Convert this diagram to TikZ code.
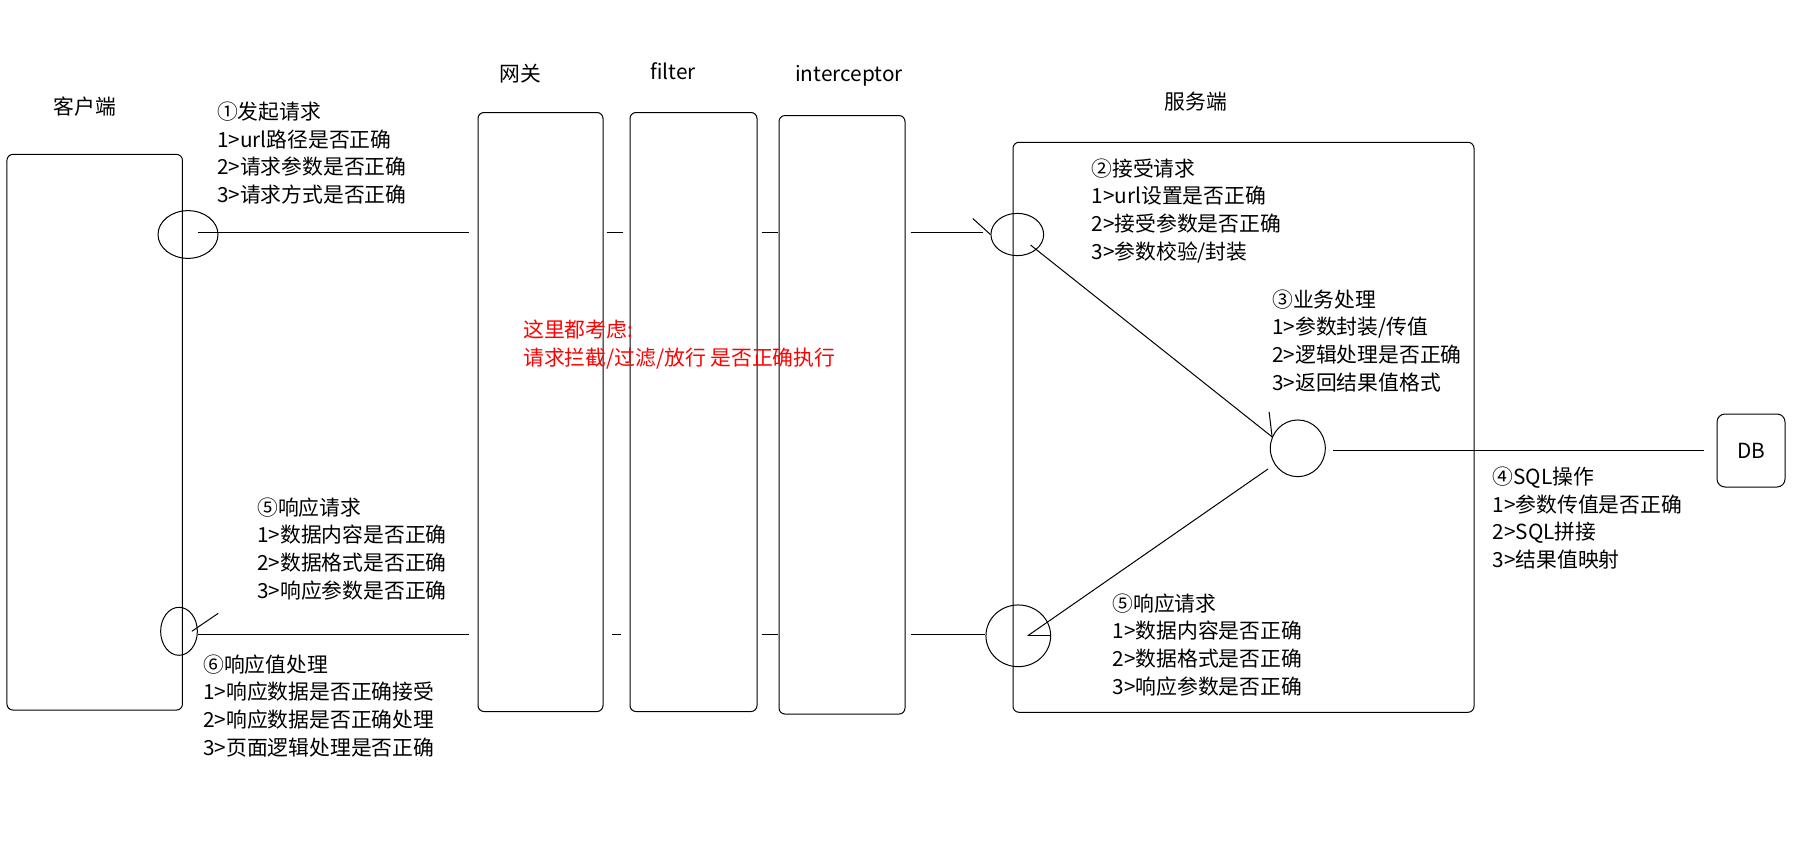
\documentclass[tikz,border=0pt]{standalone}
\usepackage{fontspec}
\setmainfont{Noto Sans CJK SC}
\usetikzlibrary{shapes.geometric}
\tikzset{
	box/.style={draw, rounded corners=6pt},
	hub/.style={draw, ellipse, inner sep=0pt},
	title/.style={inner sep=0pt, font=\fontsize{20.8}{24}\selectfont},
	steptext/.style={anchor=north west, inner sep=0pt, align=left, font=\fontsize{20.8}{27.7}\selectfont}
}
\newcommand{\checklist}[4]{\node[steptext] (#1) at (#2,#3) {#4}}

\begin{document}
\begin{tikzpicture}[x=1pt, y=-1pt, line width=1pt]
	\useasboundingbox (0,0) rectangle (1802,852);
	\node[box, minimum width=175.5pt, minimum height=555.7pt] (client) at (94.7,432.2) {};
	\node[box, minimum width=125pt, minimum height=599pt] (gw) at (540.5,412) {};
	\node[box, minimum width=127pt, minimum height=599pt] (filter) at (693.5,412) {};
	\node[box, minimum width=126pt, minimum height=598.5pt] (ic) at (842,414.8) {};
	\node[box, minimum width=461pt, minimum height=570pt] (server) at (1243.5,427.3) {};
	\node[box, title, rounded corners=8pt, minimum width=68pt, minimum height=73pt] (db) at (1751,450.5) {DB};
	\node[title] (clientlabel) at (85,106.5) {客户端};
	\node[title] (gwlabel) at (520,73.4) {网关};
	\node[title] (filterlabel) at (673,71) {filter};
	\node[title] (iclabel) at (849,76) {interceptor};
	\node[title] (serverlabel) at (1196,101.6) {服务端};
	\node[hub, minimum width=60pt, minimum height=47.7pt] (cq) at (188,234.5) {};
	\node[hub, minimum width=36.7pt, minimum height=48pt] (cr) at (179,631.3) {};
	\node[hub, minimum width=52.7pt, minimum height=42.3pt] (sq) at (1017.3,234.5) {};
	\node[hub, minimum width=55pt, minimum height=56.7pt] (sb) at (1297.8,448.3) {};
	\node[hub, minimum width=64.7pt, minimum height=61.7pt] (sr) at (1018.3,635.8) {};
	\coordinate (in) at (0,232.3);
	\coordinate (out) at (0,634.3);
	\draw[shorten <=10pt, shorten >=9pt] (cq.center |- in) -- (gw.west |- in);
	\draw[shorten <=3pt, shorten >=7pt, yshift=2pt] (gw.east |- in) -- (filter.west |- in);
	\draw[shorten <=4pt, shorten >=1pt, yshift=7pt] (filter.east |- in) -- (ic.west |- in);
	\draw[shorten <=5pt, shorten >=7pt] (ic.east |- in) -- (sq.west |- in);
	\draw (sq.west) -- ++(-17.7,-16);
	\draw[shorten <=17pt] (sq.center) -- (sb.156);
	\draw (sb.156) -- ++(-3,-25);
	\draw[shorten <=7pt, shorten >=13pt] (sb.east |- db.west) -- (db.west);
	\draw[shorten <=8pt] (sb) -- ([xshift=9.4pt]sr.center);
	\draw ([xshift=9.4pt]sr.center) -- ++(22.3,0);
	\draw[shorten <=5pt] (ic.east |- out) -- (sr.west |- out);
	\draw[shorten <=4pt, shorten >=1pt, yshift=2.3pt] (filter.east |- out) -- (ic.west |- out);
	\draw[shorten <=8pt, shorten >=9pt, yshift=5pt] (gw.east |- out) -- (filter.west |- out);
	\draw[shorten <=9pt] (gw.west |- out) -- (cr.east |- out);
	\draw ([xshift=-6pt]cr.east) -- ++(26.4,-18);
	\checklist{send}{216.5}{101.3}{①发起请求\\1>url路径是否正确\\2>请求参数是否正确\\3>请求方式是否正确};
	\checklist{accept}{1091}{157.9}{②接受请求\\1>url设置是否正确\\2>接受参数是否正确\\3>参数校验/封装};
	\checklist{logic}{1271.7}{288.9}{③业务处理\\1>参数封装/传值\\2>逻辑处理是否正确\\3>返回结果值格式};
	\checklist{sql}{1492}{466.2}{④SQL操作\\1>参数传值是否正确\\2>SQL拼接\\3>结果值映射};
	\checklist{replyserver}{1112}{592.9}{⑤响应请求\\1>数据内容是否正确\\2>数据格式是否正确\\3>响应参数是否正确};
	\checklist{replyclient}{256.7}{496.9}{⑤响应请求\\1>数据内容是否正确\\2>数据格式是否正确\\3>响应参数是否正确};
	\checklist{handle}{202.7}{653.9}{⑥响应值处理\\1>响应数据是否正确接受\\2>响应数据是否正确处理\\3>页面逻辑处理是否正确};
	\node[steptext, text=red, font=\fontsize{20.8}{28}\selectfont] (note) at (522.7,319.6) {这里都考虑:\\请求拦截/过滤/放行 是否正确执行};
\end{tikzpicture}
\end{document}
